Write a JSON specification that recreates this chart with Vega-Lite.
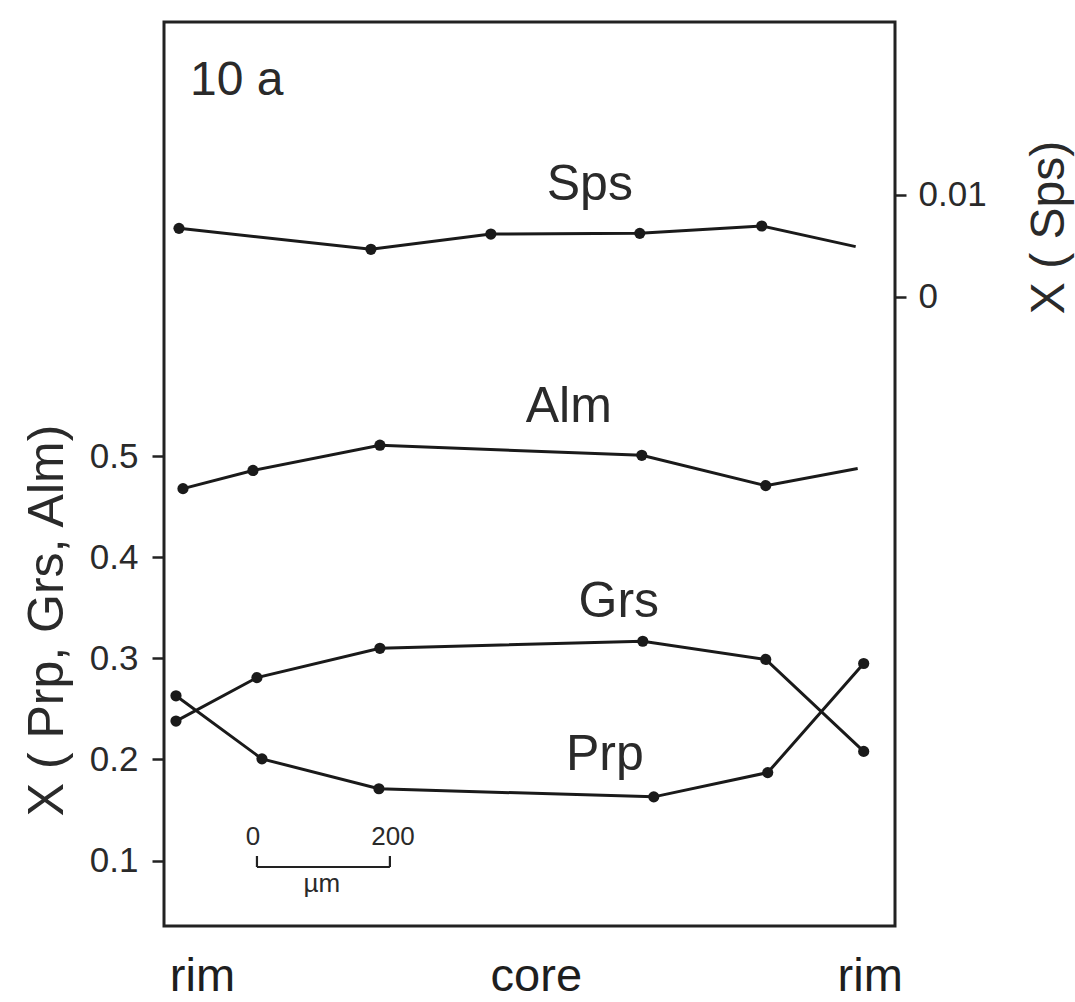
{
  "$schema": "https://vega.github.io/schema/vega-lite/v6.json",
  "width": 731,
  "height": 904,
  "autosize": {"type": "none"},
  "padding": {"left": 164, "top": 22, "right": 180, "bottom": 76},
  "background": "white",
  "config": {
    "view": {"stroke": "#222222", "strokeWidth": 3},
    "font": "Liberation Sans",
    "text": {"font": "Liberation Sans"}
  },
  "datasets": {
    "garnet": [
      {"series": "Alm", "x": 28.5, "y": 0.468, "dot": true},
      {"series": "Alm", "x": 133.5, "y": 0.486, "dot": true},
      {"series": "Alm", "x": 324, "y": 0.511, "dot": true},
      {"series": "Alm", "x": 717, "y": 0.501, "dot": true},
      {"series": "Alm", "x": 903, "y": 0.471, "dot": true},
      {"series": "Alm", "x": 1041, "y": 0.488, "dot": false},
      {"series": "Grs", "x": 18, "y": 0.238, "dot": true},
      {"series": "Grs", "x": 139.5, "y": 0.281, "dot": true},
      {"series": "Grs", "x": 324, "y": 0.310, "dot": true},
      {"series": "Grs", "x": 718.5, "y": 0.317, "dot": true},
      {"series": "Grs", "x": 903, "y": 0.299, "dot": true},
      {"series": "Grs", "x": 1050, "y": 0.208, "dot": true},
      {"series": "Prp", "x": 18, "y": 0.263, "dot": true},
      {"series": "Prp", "x": 147, "y": 0.2006, "dot": true},
      {"series": "Prp", "x": 322.5, "y": 0.171, "dot": true},
      {"series": "Prp", "x": 735, "y": 0.163, "dot": true},
      {"series": "Prp", "x": 906, "y": 0.187, "dot": true},
      {"series": "Prp", "x": 1050, "y": 0.295, "dot": true}
    ],
    "sps": [
      {"series": "Sps", "x": 22.5, "y": 0.00672, "dot": true},
      {"series": "Sps", "x": 310.5, "y": 0.00466, "dot": true},
      {"series": "Sps", "x": 490.5, "y": 0.00616, "dot": true},
      {"series": "Sps", "x": 714, "y": 0.00623, "dot": true},
      {"series": "Sps", "x": 897, "y": 0.00695, "dot": true},
      {"series": "Sps", "x": 1038, "y": 0.00492, "dot": false}
    ],
    "labels": [
      {"label": "Alm", "x": 607.5, "y": 0.534},
      {"label": "Grs", "x": 682.5, "y": 0.341},
      {"label": "Prp", "x": 661.5, "y": 0.1896}
    ],
    "spsLabel": [
      {"label": "Sps", "x": 639, "y": 0.00951}
    ],
    "panel": [
      {"label": "10 a", "x": 39, "y": 0.8576}
    ],
    "bar": [
      {"x": 139.5, "x2": 339, "y": 0.0936, "y2": 0.0936},
      {"x": 139.5, "x2": 139.5, "y": 0.0936, "y2": 0.1045},
      {"x": 339, "x2": 339, "y": 0.0936, "y2": 0.1045}
    ],
    "barText": [
      {"label": "0", "x": 133.5, "y": 0.1154},
      {"label": "200", "x": 343.5, "y": 0.1154},
      {"label": "µm", "x": 237, "y": 0.0688}
    ]
  },
  "encoding": {
    "x": {
      "field": "x",
      "type": "quantitative",
      "scale": {"domain": [0, 1097], "nice": false, "zero": false},
      "axis": {
        "values": [57, 558, 1059],
        "labelExpr": "datum.value < 300 ? 'rim' : (datum.value < 800 ? 'core' : 'rim')",
        "ticks": false,
        "domain": false,
        "grid": false,
        "labelFontSize": 47,
        "labelColor": "#1e1e1e",
        "labelPadding": 64,
        "labelBaseline": "alphabetic",
        "labelFlush": false,
        "labelOverlap": false,
        "title": null
      }
    }
  },
  "layer": [
    {
      "encoding": {
        "y": {
          "field": "y",
          "type": "quantitative",
          "scale": {"domain": [0.0352, 0.9298], "nice": false, "zero": false},
          "axis": {
            "values": [0.1, 0.2, 0.3, 0.4, 0.5],
            "format": ".1f",
            "grid": false,
            "domain": false,
            "tickSize": 12,
            "tickWidth": 2.5,
            "tickColor": "#222222",
            "labelFontSize": 35,
            "labelColor": "#2a2a2a",
            "labelPadding": 14,
            "title": "X ( Prp, Grs, Alm)",
            "titleFontSize": 50,
            "titleFontWeight": "normal",
            "titleColor": "#2a2a2a",
            "titleAngle": 270,
            "titleBaseline": "alphabetic",
            "titleAlign": "center",
            "titleX": -102,
            "titleY": 598
          }
        }
      },
      "layer": [
        {
          "data": {"name": "garnet"},
          "mark": {"type": "line", "color": "#1a1a1a", "strokeWidth": 3},
          "encoding": {"detail": {"field": "series"}}
        },
        {
          "data": {"name": "garnet"},
          "transform": [{"filter": "datum.dot"}],
          "mark": {"type": "point", "filled": true, "color": "#1a1a1a", "size": 125, "opacity": 1},
          "encoding": {}
        },
        {
          "data": {"name": "labels"},
          "mark": {"type": "text", "fontSize": 50, "color": "#2a2a2a", "baseline": "alphabetic", "align": "center"},
          "encoding": {"text": {"field": "label"}}
        },
        {
          "data": {"name": "panel"},
          "mark": {"type": "text", "fontSize": 48, "color": "#2a2a2a", "baseline": "alphabetic", "align": "left"},
          "encoding": {"text": {"field": "label"}}
        },
        {
          "data": {"name": "bar"},
          "mark": {"type": "rule", "color": "#222222", "strokeWidth": 2.2},
          "encoding": {"x2": {"field": "x2"}, "y2": {"field": "y2"}}
        },
        {
          "data": {"name": "barText"},
          "mark": {"type": "text", "fontSize": 26, "color": "#2a2a2a", "baseline": "alphabetic", "align": "center"},
          "encoding": {"text": {"field": "label"}}
        }
      ]
    },
    {
      "encoding": {
        "y": {
          "field": "y",
          "type": "quantitative",
          "scale": {"domain": [-0.06188, 0.02701], "nice": false, "zero": false},
          "axis": {
            "orient": "right",
            "values": [0, 0.01],
            "format": ".2~f",
            "grid": false,
            "domain": false,
            "tickSize": 11,
            "tickWidth": 2.5,
            "tickColor": "#222222",
            "labelFontSize": 35,
            "labelColor": "#2a2a2a",
            "labelPadding": 12,
            "title": "X ( Sps)",
            "titleFontSize": 48,
            "titleFontWeight": "normal",
            "titleColor": "#2a2a2a",
            "titleAngle": 270,
            "titleBaseline": "alphabetic",
            "titleAlign": "center",
            "titleX": 168,
            "titleY": 205
          }
        }
      },
      "layer": [
        {
          "data": {"name": "sps"},
          "mark": {"type": "line", "color": "#1a1a1a", "strokeWidth": 3},
          "encoding": {"detail": {"field": "series"}}
        },
        {
          "data": {"name": "sps"},
          "transform": [{"filter": "datum.dot"}],
          "mark": {"type": "point", "filled": true, "color": "#1a1a1a", "size": 125, "opacity": 1},
          "encoding": {}
        },
        {
          "data": {"name": "spsLabel"},
          "mark": {"type": "text", "fontSize": 50, "color": "#2a2a2a", "baseline": "alphabetic", "align": "center"},
          "encoding": {"text": {"field": "label"}}
        }
      ]
    }
  ],
  "resolve": {"scale": {"y": "independent"}}
}
